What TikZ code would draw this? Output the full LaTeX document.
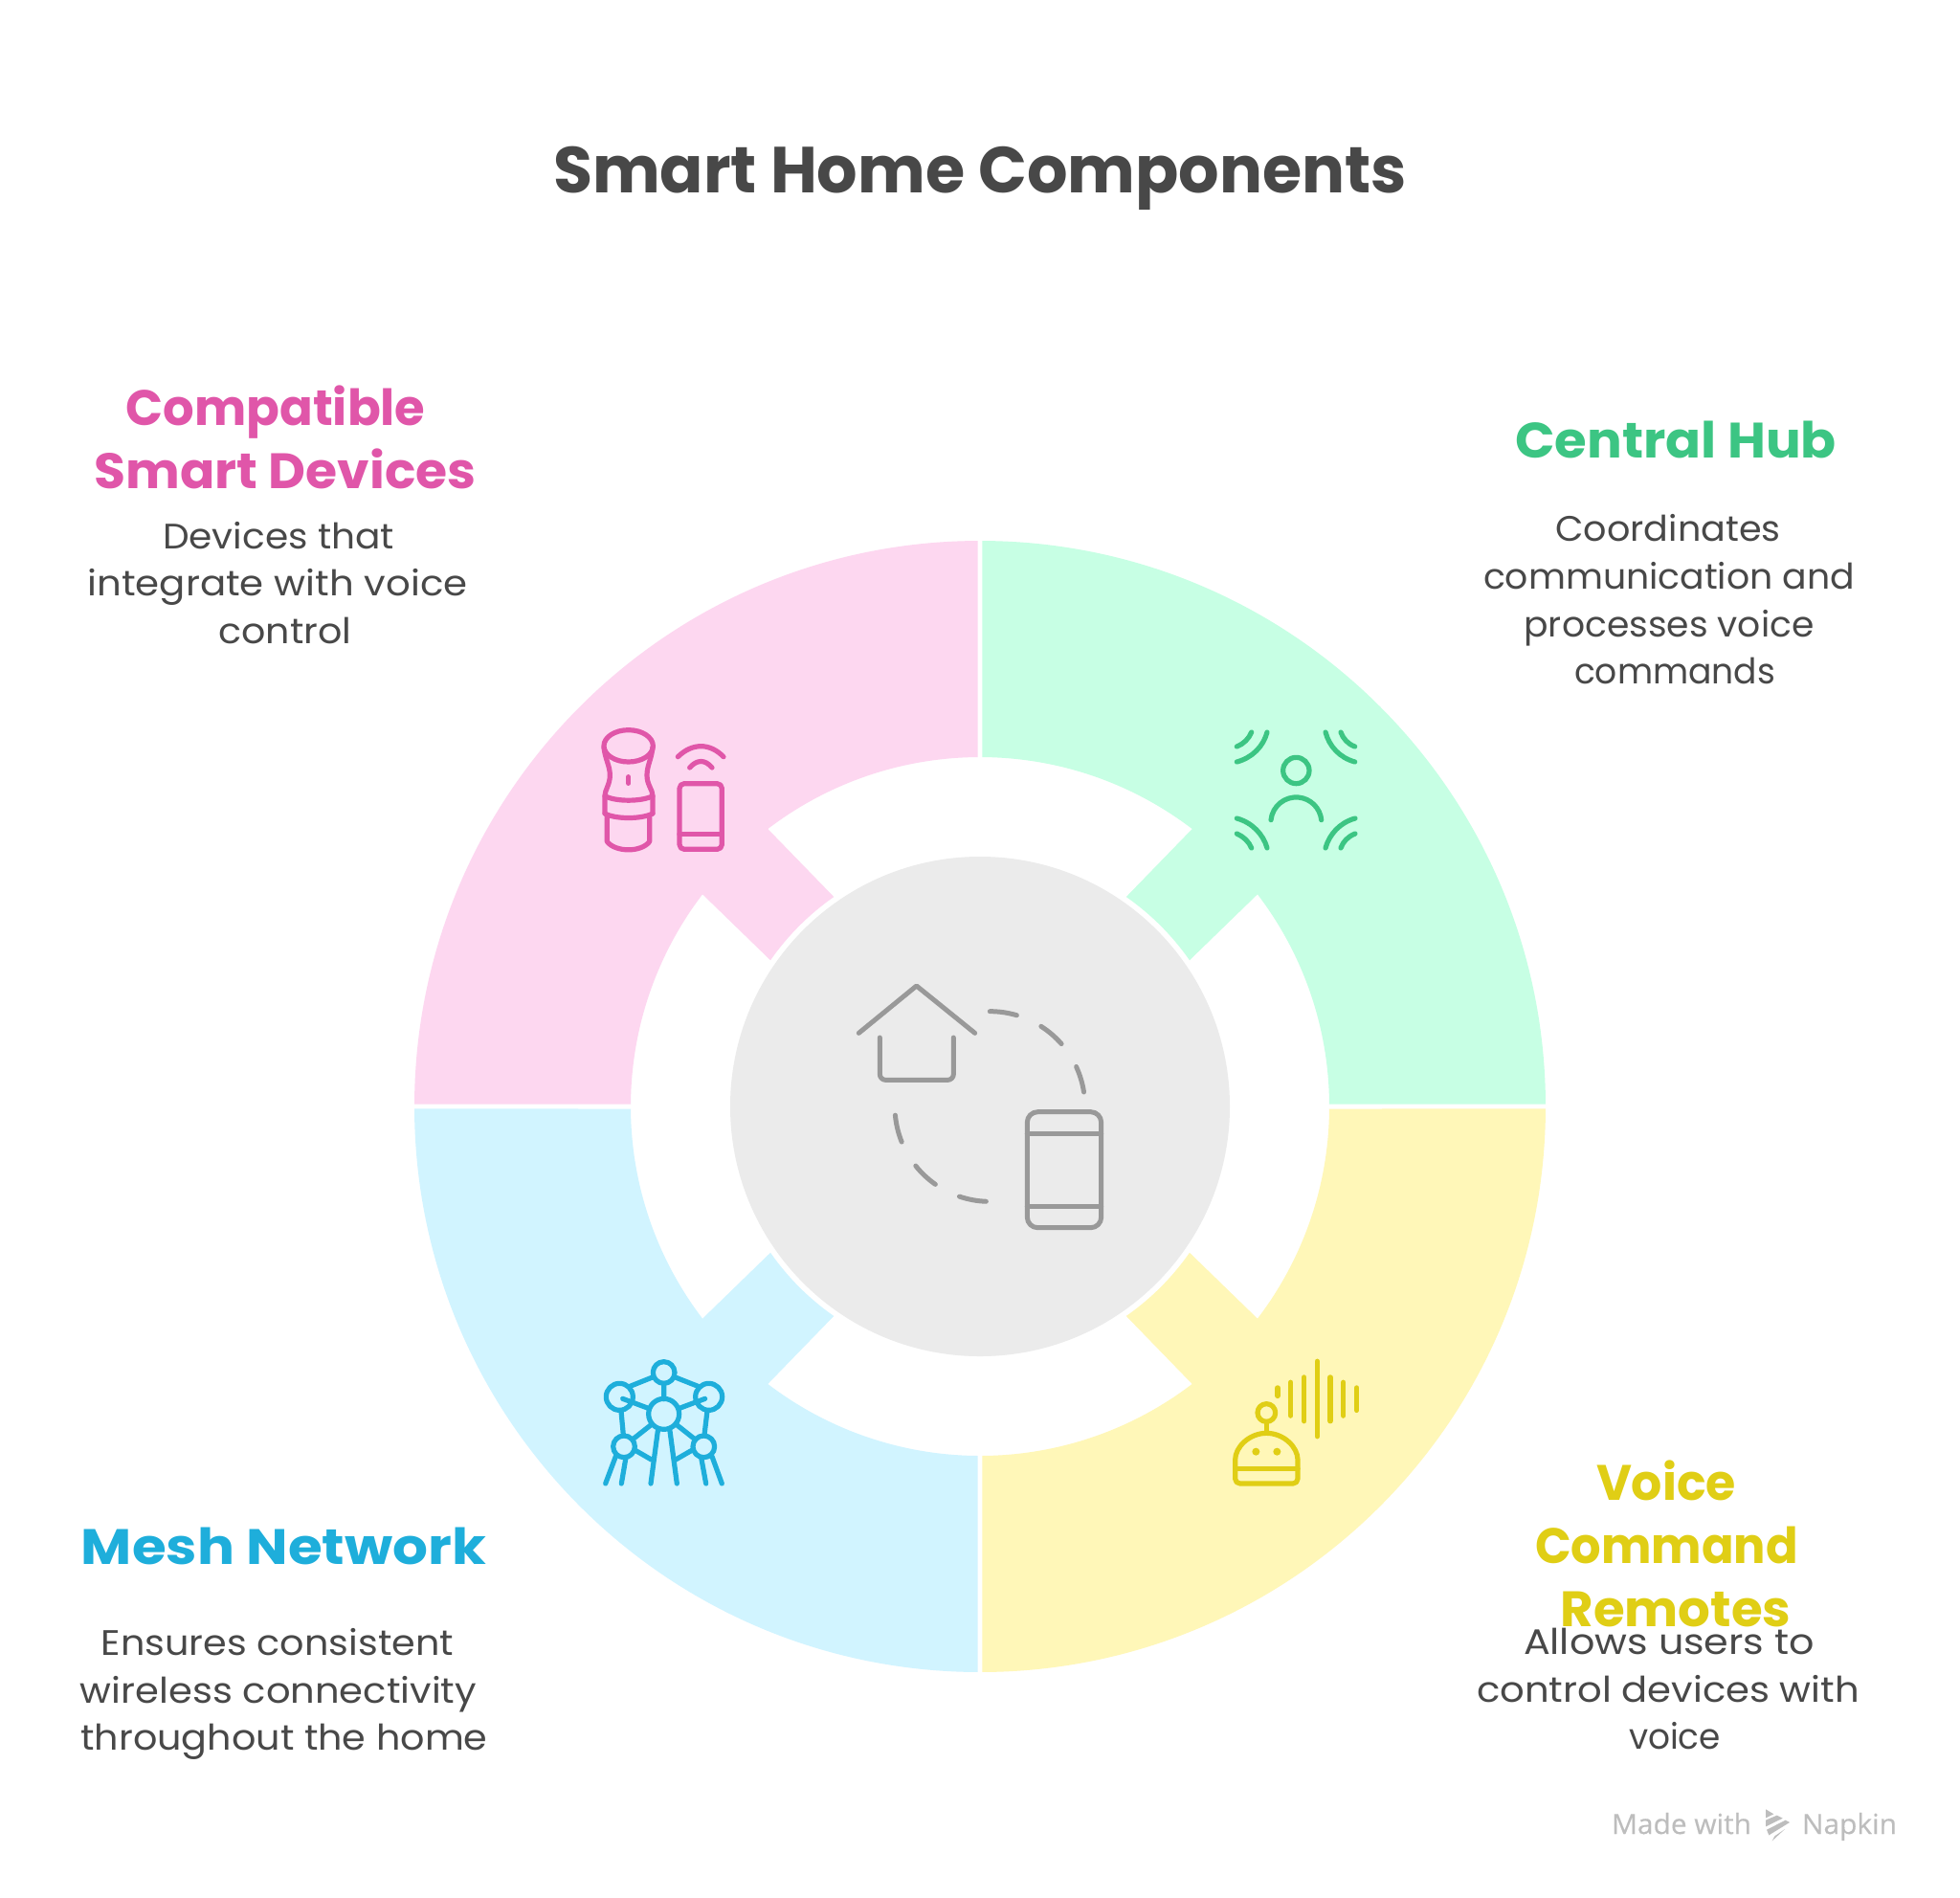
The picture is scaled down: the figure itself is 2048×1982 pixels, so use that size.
\documentclass[tikz,border=0pt]{standalone}
\usepackage{fontspec}
\usepackage{graphicx}
\setmainfont{Poppins}
\newfontfamily\brandfont[FakeBold=0.3]{Open Sans}
\definecolor{inkc}{HTML}{484848}
\definecolor{greenS}{HTML}{3CC583}\definecolor{greenF}{HTML}{C7FFE4}
\definecolor{pinkS}{HTML}{E056A9}\definecolor{pinkF}{HTML}{FDD7F0}
\definecolor{blueS}{HTML}{1EAEDB}\definecolor{blueF}{HTML}{D1F4FF}
\definecolor{yelS}{HTML}{E0CE15}\definecolor{yelF}{HTML}{FFF7B8}
\definecolor{grayS}{HTML}{999999}\definecolor{grayF}{HTML}{EBEBEB}
\definecolor{brandc}{HTML}{BDBDBD}
\tikzset{
  icon/.style={line width=#1,line cap=round,line join=round},
  titlefont/.style={font=\fontsize{68}{80}\selectfont\bfseries},
  headfont/.style={font=\fontsize{52}{62}\selectfont\bfseries},
  bodyfont/.style={font=\fontsize{37}{46}\selectfont},
  brand/.style={font=\fontsize{29}{34}\selectfont\brandfont,text=brandc}
}
% name, centre x, baseline y, width, style, colour, text
\newcommand\tl[7]{\node[anchor=base,inner sep=0pt,#5,text=#6] (#1) at (#2,#3) {\resizebox{#4pt}{\height}{#7}};}
\newcommand\sectorshape{(-89.76:591) arc[start angle=-89.76,end angle=-0.24,radius=591] -- (-0.39:365) arc[start angle=-0.39,end angle=-37.4,radius=365] -- (-34.9:267) arc[start angle=-34.9,end angle=-55.1,radius=267] -- (-52.6:365) arc[start angle=-52.6,end angle=-89.61,radius=365] -- cycle}
\begin{document}
\begin{tikzpicture}[x=1pt,y=1pt,yscale=-1]
\useasboundingbox (0,0) rectangle (2048,1982);
\fill[white] (0,0) rectangle (2048,1982);
% sectors
\begin{scope}[shift={(1024,1156)}]
\fill[greenF] \sectorshape;
\begin{scope}[rotate=90]\fill[yelF] \sectorshape;\end{scope}
\begin{scope}[rotate=180]\fill[blueF] \sectorshape;\end{scope}
\begin{scope}[rotate=270]\fill[pinkF] \sectorshape;\end{scope}
\fill[grayF] (0,0) circle[radius=261];
\end{scope}
% hub icon
\begin{scope}[shift={(860,1000)},scale=1/3,icon=5pt,draw=grayS]
\draw (112,238) -- (293,90) -- (476,238);
\draw[rounded corners=6pt] (178,252) -- (178,385) -- (409,385) -- (409,252);
\draw[rounded corners=11pt] (640,485) rectangle (872,848);
\draw (640,552) -- (872,552) (640,782) -- (872,782);
\begin{scope}[shift={(523,468)}]
\draw (-90:298) arc[start angle=-90,end angle=-73.6,radius=298];
\draw (-57.4:298) arc[start angle=-57.4,end angle=-41.2,radius=298];
\draw (-24.7:298) arc[start angle=-24.7,end angle=-8.7,radius=298];
\draw (174.7:298) arc[start angle=174.7,end angle=158.1,radius=298];
\draw (141.3:298) arc[start angle=141.3,end angle=125,radius=298];
\draw (108.7:298) arc[start angle=108.7,end angle=92.3,radius=298];
\end{scope}
\end{scope}
% devices icon
\begin{scope}[shift={(600,740)},scale=1/3,icon=5.2pt,draw=pinkS]
\draw (170,118) ellipse[x radius=77,y radius=50];
\draw (93,122) .. controls (97,160) and (112,180) .. (112,210) .. controls (112,240) and (96,255) .. (96,275) -- (96,330);
\draw (246,122) .. controls (242,160) and (228,180) .. (228,210) .. controls (228,240) and (246,255) .. (246,275) -- (246,330);
\draw (96,275) .. controls (130,293) and (210,293) .. (246,275);
\draw (96,330) .. controls (130,348) and (210,348) .. (246,330);
\draw (103,340) -- (103,418) .. controls (130,452) and (210,452) .. (236,418) -- (236,340);
\draw (170,215) -- (170,235);
\draw[rounded corners=5pt] (330,236) rectangle (463,442);
\draw (330,395) -- (463,395);
\draw (325,152) .. controls (370,108) and (425,108) .. (468,152);
\draw (362,186) .. controls (385,160) and (410,160) .. (432,186);
\end{scope}
% central hub icon
\begin{scope}[shift={(1260,740)},scale=1/3,icon=5.2pt,draw=greenS]
\draw (283,195) circle[radius=41];
\draw (204,350) arc[start angle=-174,end angle=-6,radius=79.5];
\draw (97,168) .. controls (145,155) and (180,120) .. (192,75);
\draw (97,120) .. controls (118,112) and (135,95) .. (143,75);
\draw (467,168) .. controls (420,155) and (387,120) .. (375,75);
\draw (467,120) .. controls (445,112) and (430,95) .. (423,75);
\draw (97,345) .. controls (145,358) and (180,395) .. (192,438);
\draw (97,393) .. controls (118,402) and (135,418) .. (143,438);
\draw (468,345) .. controls (420,358) and (387,395) .. (375,438);
\draw (468,393) .. controls (445,402) and (430,418) .. (423,438);
\end{scope}
% mesh icon
\begin{scope}[shift={(610,1400)},scale=1/3,icon=5.2pt,draw=blueS]
\draw (251,102) circle[radius=34];
\draw (112,178) circle[radius=42];
\draw (392,178) circle[radius=42];
\draw (251,232) circle[radius=48];
\draw (126,334) circle[radius=34];
\draw (376,334) circle[radius=34];
\draw (215,117) -- (145,145) (287,117) -- (358,145) (251,136) -- (251,185);
\draw (122,184) -- (205,215) (380,184) -- (297,215);
\draw (117,222) -- (124,298) (387,222) -- (378,298);
\draw (212,265) -- (155,310) (290,265) -- (347,310);
\draw (160,345) -- (212,375) (340,345) -- (288,375);
\draw (232,285) -- (210,450) (270,285) -- (292,450);
\draw (100,365) -- (68,450) (132,368) -- (118,450);
\draw (368,368) -- (383,450) (402,365) -- (433,450);
\end{scope}
% voice icon
\begin{scope}[shift={(1260,1400)},scale=1/3,icon=5.2pt,draw=yelS]
\draw (190,228) circle[radius=28];
\draw (190,256) -- (190,285);
\draw[rounded corners=5pt] (92,450) -- (92,390) arc[start angle=180,end angle=360,radius=98] -- (288,450) -- cycle;
\draw (92,403) -- (288,403);
\fill[yelS] (157,350) circle[radius=12] (223,350) circle[radius=12];
\draw[line width=5.5pt] (225,150) -- (225,175) (266,133) -- (266,237) (308,117) -- (308,254) (349,67) -- (349,302) (390,117) -- (390,254) (431,133) -- (431,237) (473,150) -- (473,220);
\end{scope}
% texts
\tl{title}{1024}{201}{892}{titlefont}{inkc}{Smart Home Components}
\tl{pa}{288}{444}{313}{headfont}{pinkS}{Compatible}
\tl{pb}{298}{510}{399}{headfont}{pinkS}{Smart Devices}
\tl{pc}{291}{573}{242}{bodyfont}{inkc}{Devices that}
\tl{pd}{290}{622}{397}{bodyfont}{inkc}{integrate with voice}
\tl{pe}{298}{672}{139}{bodyfont}{inkc}{control}
\tl{ga}{1751}{478}{336}{headfont}{greenS}{Central Hub}
\tl{gb}{1743}{565}{235}{bodyfont}{inkc}{Coordinates}
\tl{gc}{1744}{615}{388}{bodyfont}{inkc}{communication and}
\tl{gd}{1744}{665}{303}{bodyfont}{inkc}{processes voice}
\tl{ge}{1750}{714}{210}{bodyfont}{inkc}{commands}
\tl{ba}{296.5}{1634}{423}{headfont}{blueS}{Mesh Network}
\tl{bb}{290}{1729}{368}{bodyfont}{inkc}{Ensures consistent}
\tl{bc}{291}{1779}{414}{bodyfont}{inkc}{wireless connectivity}
\tl{bd}{297}{1828}{425}{bodyfont}{inkc}{throughout the home}
\tl{ya}{1741}{1567}{146}{headfont}{yelS}{Voice}
\tl{yb}{1741.5}{1633}{275}{headfont}{yelS}{Command}
\tl{yc}{1751}{1699}{241}{headfont}{yelS}{Remotes}
\tl{yd}{1744}{1728}{304}{bodyfont}{inkc}{Allows users to}
\tl{ye}{1743}{1778}{400}{bodyfont}{inkc}{control devices with}
\tl{yf}{1750}{1827}{96}{bodyfont}{inkc}{voice}
\tl{ma}{1757}{1916}{146}{brand}{brandc}{Made with}
\tl{mb}{1932.5}{1916}{99}{brand}{brandc}{Napkin}
% brand mark
\begin{scope}[shift={(1835,1885)},scale=1/3]
\fill[brandc] (30,16) -- (55,31) -- (30,43) -- cycle;
\fill[brandc] (30,50) -- (65,35) -- (83,44) -- (30,70) -- cycle;
\fill[brandc] (33,80) -- (92,50) -- (105,57) -- (40,97) -- cycle;
\fill[brandc] (50,115) -- (58,100) -- (90,78) -- cycle;
\end{scope}
\end{tikzpicture}
\end{document}
